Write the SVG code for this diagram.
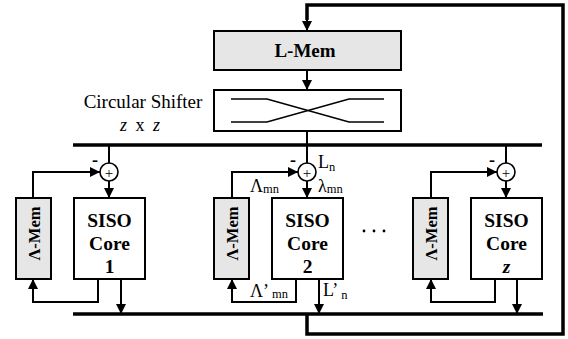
<svg xmlns="http://www.w3.org/2000/svg" width="568" height="339" viewBox="0 0 568 339" font-family="'Liberation Serif', Tinos, 'Times New Roman', 'DejaVu Serif', serif">
  <defs>
    <marker id="arr" markerUnits="userSpaceOnUse" markerWidth="10" markerHeight="11" viewBox="0 0 10 11" refX="10" refY="5.5" orient="auto">
      <path d="M0,0.5 L10,5.5 L0,10.5 z" fill="#000"/>
    </marker>
  </defs>
  <style>
    .box { fill: #fff; stroke: #000; stroke-width: 2; }
    .mem { fill: #e6e6e6; stroke: #000; stroke-width: 2; }
    .bus { fill: none; stroke: #000; stroke-width: 3.5; }
    .wire { fill: none; stroke: #000; stroke-width: 2; }
    .thin { fill: none; stroke: #000; stroke-width: 1.6; }
    text { font-family: 'Liberation Serif', Tinos, 'Times New Roman', 'DejaVu Serif', serif; fill: #000; }
    .bold { font-weight: bold; }
    .core { font-weight: bold; font-size: 19.5px; text-anchor: middle; }
    .vmem { font-weight: bold; font-size: 16.5px; text-anchor: middle; }
    .sub { font-size: 12.5px; }
  </style>
  <rect width="568" height="339" fill="#fff"/>

  <!-- L memory -->
  <g id="l-mem">
    <rect class="mem" x="214" y="31" width="187" height="39"/>
    <text class="bold" x="305" y="57" font-size="19" text-anchor="middle">L-Mem</text>
  </g>

  <!-- circular shifter -->
  <g id="shifter">
    <rect class="box" x="214" y="90" width="187" height="41"/>
    <path class="thin" d="M231,99 H267 L349,122 H384 M231,122 H267 L349,99 H384"/>
    <text x="143" y="108" font-size="19" text-anchor="middle">Circular Shifter</text>
    <text x="140" y="131" font-size="18" text-anchor="middle" word-spacing="4"><tspan font-style="italic">z</tspan> x <tspan font-style="italic">z</tspan></text>
  </g>

  <!-- processing lane 1 -->
  <g id="core-1">
    <rect class="mem" x="16" y="198" width="35" height="81"/>
    <text class="vmem" transform="translate(39.5,233.5) rotate(-90)">Λ-Mem</text>
    <rect class="box" x="74" y="198" width="71" height="81"/>
    <text class="core" x="109.5" y="227">SISO</text>
    <text class="core" x="109.5" y="250">Core</text>
    <text class="core" x="109.5" y="273">1</text>
    <circle class="thin" cx="109" cy="172" r="9" fill="#fff"/>
    <text x="109" y="177.5" font-size="15" text-anchor="middle">+</text>
    <text class="bold" x="95" y="166" font-size="18" text-anchor="middle">-</text>
  </g>

  <!-- processing lane 2 -->
  <g id="core-2">
    <rect class="mem" x="214" y="198" width="35" height="81"/>
    <text class="vmem" transform="translate(237.5,233.5) rotate(-90)">Λ-Mem</text>
    <rect class="box" x="272" y="198" width="71" height="81"/>
    <text class="core" x="307.5" y="227">SISO</text>
    <text class="core" x="307.5" y="250">Core</text>
    <text class="core" x="307.5" y="273">2</text>
    <circle class="thin" cx="307" cy="172" r="9" fill="#fff"/>
    <text x="307" y="177.5" font-size="15" text-anchor="middle">+</text>
    <text class="bold" x="293" y="166" font-size="18" text-anchor="middle">-</text>
    <text x="318" y="168" font-size="18">L<tspan class="sub" dy="3">n</tspan></text>
    <text x="318" y="192" font-size="18">λ<tspan class="sub" dy="1">mn</tspan></text>
    <text x="250" y="192" font-size="18">Λ<tspan class="sub" dy="1">mn</tspan></text>
    <text x="250" y="297" font-size="18">Λ’<tspan class="sub" dx="3" dy="1">mn</tspan></text>
    <text x="323" y="296" font-size="18">L’<tspan class="sub" dx="3" dy="3">n</tspan></text>
  </g>

  <!-- processing lane z -->
  <g id="core-z">
    <rect class="mem" x="413" y="198" width="35" height="81"/>
    <text class="vmem" transform="translate(436.5,233.5) rotate(-90)">Λ-Mem</text>
    <rect class="box" x="471" y="198" width="71" height="81"/>
    <text class="core" x="506.5" y="227">SISO</text>
    <text class="core" x="506.5" y="250">Core</text>
    <text class="core" x="506.5" y="273" font-style="italic">z</text>
    <circle class="thin" cx="506" cy="172" r="9" fill="#fff"/>
    <text x="506" y="177.5" font-size="15" text-anchor="middle">+</text>
    <text class="bold" x="492" y="166" font-size="18" text-anchor="middle">-</text>
  </g>

  <!-- ellipsis between lanes -->
  <g id="ellipsis">
    <circle cx="364" cy="231" r="1.4" fill="#000"/>
    <circle cx="374" cy="231" r="1.4" fill="#000"/>
    <circle cx="384" cy="231" r="1.4" fill="#000"/>
  </g>

  <!-- connectors -->
  <g id="connectors">
    <!-- buses -->
    <path class="bus" d="M73,145 H542"/>
    <path class="bus" d="M73,314 H543"/>
    <!-- outer feedback loop into L-Mem -->
    <path class="bus" d="M307,314 V334 H563 V5 H307 V20"/>
    <path class="wire" d="M307,18 V31" marker-end="url(#arr)"/>
    <path class="wire" d="M307,70 V90" marker-end="url(#arr)"/>
    <path class="wire" d="M307,131 V145"/>

    <!-- lane 1 -->
    <path class="wire" d="M109,145 V163"/>
    <path class="wire" d="M109,181 V198" marker-end="url(#arr)"/>
    <path class="wire" d="M33,198 V172 H100" marker-end="url(#arr)"/>
    <path class="wire" d="M98,279 V302 H33 V279" marker-end="url(#arr)"/>
    <path class="wire" d="M121,279 V314" marker-end="url(#arr)"/>

    <!-- lane 2 -->
    <path class="wire" d="M307,145 V163"/>
    <path class="wire" d="M307,181 V198" marker-end="url(#arr)"/>
    <path class="wire" d="M232,198 V172 H298" marker-end="url(#arr)"/>
    <path class="wire" d="M296,279 V302 H232 V279" marker-end="url(#arr)"/>
    <path class="wire" d="M319,279 V314" marker-end="url(#arr)"/>

    <!-- lane z -->
    <path class="wire" d="M506,145 V163"/>
    <path class="wire" d="M506,181 V198" marker-end="url(#arr)"/>
    <path class="wire" d="M431,198 V172 H497" marker-end="url(#arr)"/>
    <path class="wire" d="M495,279 V302 H431 V279" marker-end="url(#arr)"/>
    <path class="wire" d="M517,279 V314" marker-end="url(#arr)"/>
  </g>
</svg>
